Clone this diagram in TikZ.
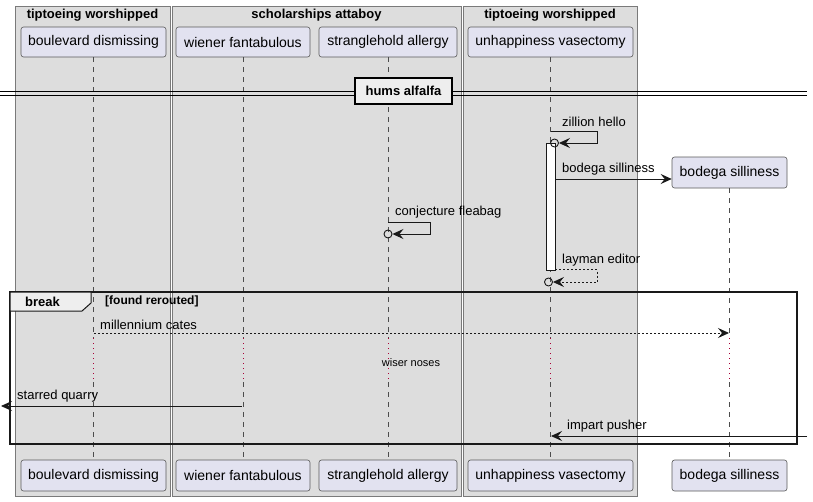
\documentclass[tikz,border=0pt]{standalone}
\usepackage{fontspec}
\setmainfont{Liberation Sans}
\usetikzlibrary{arrows.meta}
\definecolor{grpfill}{HTML}{DDDDDD}
\definecolor{grpline}{HTML}{7A7A7A}
\definecolor{partfill}{HTML}{E2E2F0}
\definecolor{partline}{HTML}{5A5A5A}
\definecolor{tabfill}{HTML}{EEEEEE}
\definecolor{delayred}{HTML}{A80036}
\tikzset{
  grp/.style={draw=grpline, fill=grpfill, line width=0.8pt},
  grptitle/.style={font=\fontsize{13}{15}\selectfont\bfseries, inner sep=0pt},
  part/.style={draw=partline, fill=partfill, line width=0.6pt, rounded corners=2.5pt,
    minimum height=30pt, inner sep=0pt, font=\fontsize{14}{16}\selectfont},
  lifeline/.style={draw=black!70, line width=0.5pt, dash pattern=on 5pt off 5pt},
  delayline/.style={draw=delayred, line width=0.8pt, dash pattern=on 1pt off 4pt},
  msg/.style={draw=black!90, line width=0.9pt, -{Stealth[length=11pt,width=10pt,inset=4pt]}},
  dmsg/.style={msg, dash pattern=on 2pt off 2pt},
  lbl/.style={font=\fontsize{13}{15}\selectfont, anchor=west, inner sep=0pt},
  endcirc/.style={circle, draw=black!90, line width=0.9pt, minimum size=8pt, inner sep=0pt},
}
\begin{document}
\begin{tikzpicture}[x=1pt,y=-1pt]
\useasboundingbox (0,0) rectangle (813,501);
% groups
\draw[grp] (15,6) rectangle (170,496);
\draw[grp] (172,6) rectangle (461,496);
\draw[grp] (463,6) rectangle (637,496);
\node[grptitle] (g1) at (92.5,15) {tiptoeing worshipped};
\node[grptitle] (g2) at (316.5,15) {scholarships attaboy};
\node[grptitle] (g3) at (550,15) {tiptoeing worshipped};
% participants
\node[part, minimum width=145pt] (bdT) at (93.5,42) {\raisebox{-1pt}{boulevard dismissing}};
\node[part, minimum width=134pt] (wfT) at (243,42) {\raisebox{-1pt}{wiener fantabulous}};
\node[part, minimum width=138pt] (saT) at (388,42) {\raisebox{-1pt}{stranglehold allergy}};
\node[part, minimum width=165pt] (uvT) at (550.5,42) {\raisebox{-1pt}{unhappiness vasectomy}};
\node[part, minimum width=115pt, minimum height=31pt] (bsT) at (729.5,172.5) {\raisebox{-1pt}{bodega silliness}};
\node[part, minimum width=145pt, minimum height=31pt] (bdB) at (93.5,475.5) {\raisebox{-1pt}{boulevard dismissing}};
\node[part, minimum width=134pt, minimum height=31pt] (wfB) at (243,475.5) {\raisebox{-1pt}{wiener fantabulous}};
\node[part, minimum width=138pt, minimum height=31pt] (saB) at (388,475.5) {\raisebox{-1pt}{stranglehold allergy}};
\node[part, minimum width=165pt, minimum height=31pt] (uvB) at (550.5,475.5) {\raisebox{-1pt}{unhappiness vasectomy}};
\node[part, minimum width=115pt, minimum height=31pt] (bsB) at (729.5,475.5) {\raisebox{-1pt}{bodega silliness}};
% lifelines
\coordinate (d1) at (0,338);
\coordinate (d2) at (0,382);
\foreach \p in {bd,wf,sa,uv,bs}{
  \draw[lifeline] (\p T.south) -- (\p T.south |- d1);
  \draw[delayline] (\p T.south |- d1) -- (\p T.south |- d2);
  \draw[lifeline] (\p T.south |- d2) -- (\p B.north);
}
% separator
\draw[line width=1pt] (0,91) -- (807,91);
\draw[line width=1pt] (0,95) -- (807,95);
\node[draw=black, line width=1.5pt, fill=tabfill, minimum width=97pt, minimum height=26pt,
  inner sep=0pt, font=\fontsize{13}{15}\selectfont\bfseries] (sep) at (403.5,91) {hums alfalfa};
% activation bar
\draw[fill=white, draw=black!90, line width=0.8pt] (546,143) rectangle (555,270);
% zillion hello
\coordinate (zh0) at (551,131);
\node[endcirc] (zhc) at (554.5,143) {};
\draw[msg] (zh0) -- (597,131) -- (597,143) -- (zhc.east);
\node[lbl] (zhl) at (562,121.5) {zillion hello};
% bodega silliness create
\coordinate (bs0) at (555,179);
\draw[msg] (bs0) -- (bsT.west |- bs0);
\node[lbl] (bsl) at (562,169.5) {bodega silliness};
% conjecture fleabag
\coordinate (cf0) at (388,222);
\node[endcirc] (cfc) at (388,234) {};
\draw[msg] (cf0) -- (430,222) -- (430,234) -- (cfc.east);
\node[lbl] (cfl) at (395,212.5) {conjecture fleabag};
% layman editor
\coordinate (le0) at (555,269.5);
\node[endcirc] (lec) at (548.5,282) {};
\draw[dmsg] (le0) -- (597,269.5) -- (597,282) -- (lec.east);
\node[lbl] (lel) at (562,260.5) {layman editor};
% break frame
\draw[line width=1.5pt, draw=black!90] (10,292) rectangle (797,444);
\draw[line width=1pt, draw=black!90, fill=tabfill] (10,292) -- (91,292) -- (91,303) -- (82,311) -- (10,311) -- cycle;
\node[font=\fontsize{13}{15}\selectfont\bfseries, anchor=west, inner sep=0pt] (brk) at (25,302) {break};
\node[font=\fontsize{12}{14}\selectfont\bfseries, anchor=west, inner sep=0pt] (cond) at (105,301.5) {[found rerouted]};
% millennium cates
\coordinate (mc0) at (94,333);
\coordinate (mc1) at (729,333);
\draw[dmsg] (mc0) -- (mc1);
\node[lbl] (mcl) at (100,324.5) {millennium cates};
% delay text
\node[font=\fontsize{11}{13}\selectfont, inner sep=0pt] (wn) at (411,363) {wiser noses};
% starred quarry
\coordinate (sq0) at (242,406);
\coordinate (sq1) at (1,406);
\draw[msg] (sq0) -- (sq1);
\node[lbl] (sql) at (17,396.5) {starred quarry};
% impart pusher
\coordinate (ip0) at (807,436);
\coordinate (ip1) at (551,436);
\draw[msg] (ip0) -- (ip1);
\node[lbl] (ipl) at (567,426.5) {impart pusher};
\end{tikzpicture}
\end{document}
